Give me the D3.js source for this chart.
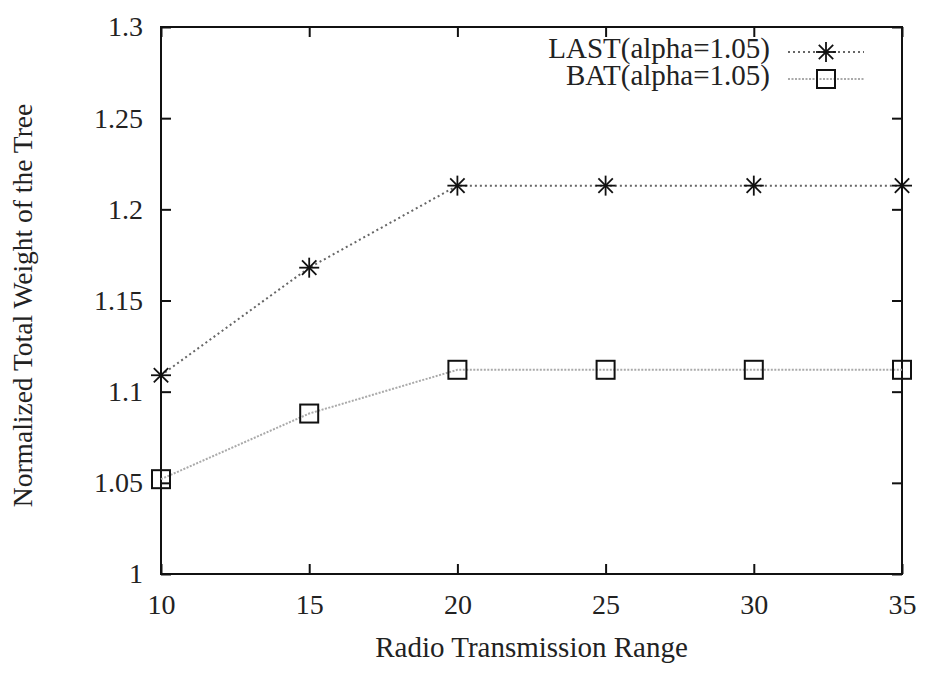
<!DOCTYPE html>
<html>
<head>
<meta charset="utf-8">
<script src="https://cdn.jsdelivr.net/npm/d3@7"></script>
<style>
  body { margin: 0; background: #fff; }
  text { font-family: "Liberation Serif", "DejaVu Serif", serif; fill: #222; }
</style>
</head>
<body>
<svg id="chart" width="932" height="676"></svg>
<script>
// data
var ranges = [10, 15, 20, 25, 30, 35];
var last_vals = [1.109, 1.168, 1.213, 1.213, 1.213, 1.213];
var bat_vals = [1.052, 1.088, 1.112, 1.112, 1.112, 1.112];
var y_ticks = [1, 1.05, 1.1, 1.15, 1.2, 1.25, 1.3];
var x_ticks = [10, 15, 20, 25, 30, 35];
var series_names = ["LAST(alpha=1.05)", "BAT(alpha=1.05)"];

const margin = {top: 27, right: 30, bottom: 102, left: 161};
const width = 932 - margin.left - margin.right;
const height = 676 - margin.top - margin.bottom;
const tickLen = 10;
const fs = 28;

var svg = d3.select("#chart");
var g = svg.append("g").attr("transform", "translate(" + margin.left + "," + margin.top + ")");

var x = d3.scaleLinear().domain([10, 35]).range([0, width]);
var y = d3.scaleLinear().domain([1, 1.3]).range([height, 0]);

// axes: ticks pointing inward, mirrored on top and right
var xb = g.append("g").attr("transform", "translate(0," + height + ")")
  .call(d3.axisBottom(x).tickValues(x_ticks).tickSizeInner(-tickLen).tickSizeOuter(0).tickPadding(20).tickFormat(d3.format("")));
var xt = g.append("g")
  .call(d3.axisTop(x).tickValues(x_ticks).tickSizeInner(-tickLen).tickSizeOuter(0).tickFormat(""));
var yl = g.append("g")
  .call(d3.axisLeft(y).tickValues(y_ticks).tickSizeInner(-tickLen).tickSizeOuter(0).tickPadding(18).tickFormat(d3.format("")));
var yr = g.append("g").attr("transform", "translate(" + width + ",0)")
  .call(d3.axisRight(y).tickValues(y_ticks).tickSizeInner(-tickLen).tickSizeOuter(0).tickFormat(""));

[xb, xt, yl, yr].forEach(function(a) {
  a.select(".domain").remove();
  a.selectAll("line").attr("stroke", "#111").attr("stroke-width", 2);
  a.selectAll("text").attr("font-size", fs + "px").attr("font-family", "Liberation Serif").attr("fill", "#222");
});

// frame
g.append("rect").attr("x", 0).attr("y", 0).attr("width", width).attr("height", height)
  .attr("fill", "none").attr("stroke", "#111").attr("stroke-width", 2);

// axis labels
g.append("text")
  .attr("x", width / 2).attr("y", height + 83)
  .attr("text-anchor", "middle").attr("font-size", "29px")
  .text("Radio Transmission Range");
g.append("text")
  .attr("transform", "translate(" + (-margin.left + 32) + "," + (height / 2 + 5) + ") rotate(-90)")
  .attr("text-anchor", "middle").attr("font-size", "27.5px")
  .text("Normalized Total Weight of the Tree");

var line = d3.line().x(d => x(d.x)).y(d => y(d.y));
var last_pts = ranges.map((r, i) => ({x: r, y: last_vals[i]}));
var bat_pts = ranges.map((r, i) => ({x: r, y: bat_vals[i]}));

var styles = [
  {color: "#666", dash: "2,3", width: 2},
  {color: "#aaa", dash: "2,1.5", width: 2}
];

function star(sel, cx, cy) {
  var r = 10, d = r * 0.72;
  var s = sel.append("g").attr("transform", "translate(" + cx + "," + cy + ")")
    .attr("stroke", "#111").attr("stroke-width", 1.8);
  s.append("line").attr("x1", -r).attr("x2", r).attr("y1", 0).attr("y2", 0);
  s.append("line").attr("x1", 0).attr("x2", 0).attr("y1", -r).attr("y2", r);
  s.append("line").attr("x1", -d).attr("x2", d).attr("y1", -d).attr("y2", d);
  s.append("line").attr("x1", -d).attr("x2", d).attr("y1", d).attr("y2", -d);
}
function square(sel, cx, cy) {
  var h = 9;
  sel.append("rect").attr("x", cx - h).attr("y", cy - h).attr("width", 2 * h).attr("height", 2 * h)
    .attr("fill", "none").attr("stroke", "#111").attr("stroke-width", 2);
}

g.append("path").datum(last_pts).attr("d", line).attr("fill", "none")
  .attr("stroke", styles[0].color).attr("stroke-width", styles[0].width).attr("stroke-dasharray", styles[0].dash);
g.append("path").datum(bat_pts).attr("d", line).attr("fill", "none")
  .attr("stroke", styles[1].color).attr("stroke-width", styles[1].width).attr("stroke-dasharray", styles[1].dash);

last_pts.forEach(p => star(g, x(p.x), y(p.y)));
bat_pts.forEach(p => square(g, x(p.x), y(p.y)));

// legend
var leg = g.append("g");
var rows = [25, 52];
series_names.forEach(function(name, i) {
  leg.append("text").attr("x", 609).attr("y", rows[i] - 4)
    .attr("text-anchor", "end").attr("dominant-baseline", "central").attr("font-size", "29px")
    .text(name);
  leg.append("line").attr("x1", 627).attr("x2", 703).attr("y1", rows[i]).attr("y2", rows[i])
    .attr("stroke", styles[i].color).attr("stroke-width", styles[i].width).attr("stroke-dasharray", styles[i].dash);
  if (i === 0) star(leg, 665, rows[i]); else square(leg, 665, rows[i]);
});
</script>
</body>
</html>
